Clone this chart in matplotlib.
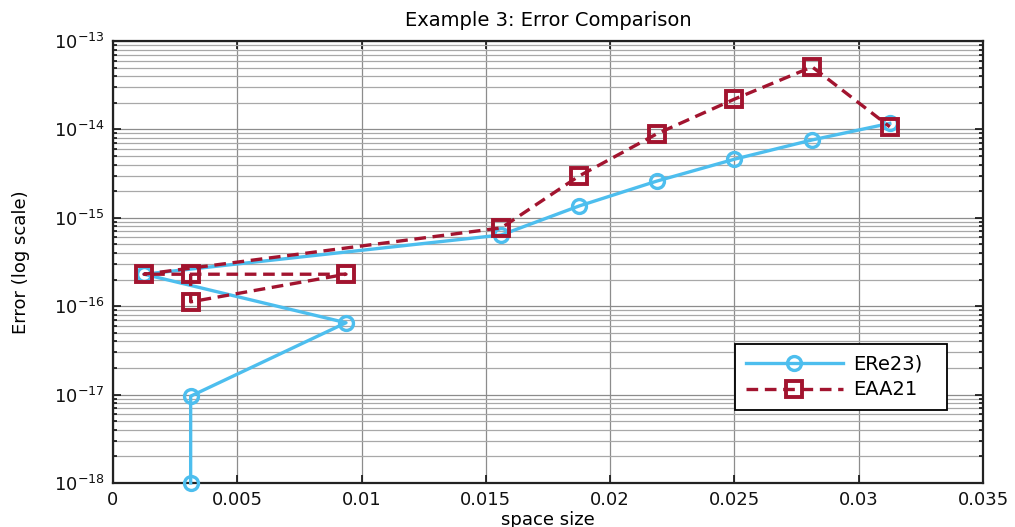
import numpy as np
import matplotlib
matplotlib.use("Agg")
import matplotlib.pyplot as plt
from matplotlib.ticker import FixedLocator, LogFormatterMathtext, NullFormatter

plt.rcParams['font.family'] = ['DejaVu Sans']
plt.rcParams['mathtext.fontset'] = 'dejavusans'

# space sizes (same for both methods, in plotting order)
space_size = [0.003125, 0.003125, 0.009375, 0.00125, 0.015625,
              0.01875, 0.021875, 0.025, 0.028125, 0.03125]
err_ere23 = [1.0e-18, 9.6e-18, 6.5e-17, 2.3e-16, 6.4e-16,
             1.36e-15, 2.6e-15, 4.6e-15, 7.6e-15, 1.17e-14]
err_eaa21 = [2.3e-16, 1.12e-16, 2.3e-16, 2.3e-16, 7.7e-16,
             2.97e-15, 8.9e-15, 2.2e-14, 5.1e-14, 1.07e-14]
xtick_vals = [0, 0.005, 0.01, 0.015, 0.02, 0.025, 0.03, 0.035]
xtick_text = ['0', '0.005', '0.01', '0.015', '0.02', '0.025', '0.03', '0.035']
ytick_exp = [-18, -17, -16, -15, -14, -13]

blue = '#4DBEEE'
red = '#A2142F'

fig = plt.figure(figsize=(10.15, 5.27), dpi=100)
ax = fig.add_axes([0.1113, 0.0835, 0.8572, 0.8387])

ax.plot(space_size, err_ere23, '-o', color=blue, lw=2.4, ms=10, mew=2.4,
        mfc='none', label='ERe23)', clip_on=False, zorder=3)
ax.plot(space_size, err_eaa21, '--s', color=red, lw=2.4, ms=11, mew=2.8,
        mfc='none', label='EAA21', clip_on=False, zorder=4, dashes=(3.5, 2))

ax.set_yscale('log')
ax.set_xlim(0, 0.035)
ax.set_ylim(1e-18, 1e-13)
ax.set_xticks(xtick_vals)
ax.set_xticklabels(xtick_text)

# explicit log ticks so nothing lands outside the axes
major_y = [10.0 ** e for e in ytick_exp]
minor_y = [m * 10.0 ** e for e in ytick_exp[:-1] for m in range(2, 10)]
ax.yaxis.set_major_locator(FixedLocator(major_y))
ax.yaxis.set_major_formatter(LogFormatterMathtext())
ax.yaxis.set_minor_locator(FixedLocator(minor_y))
ax.yaxis.set_minor_formatter(NullFormatter())

# matlab-like grid
ax.grid(True, which='major', color='#8c8c8c', lw=0.9)
ax.grid(True, which='minor', axis='y', color='#a8a8a8', lw=0.9)
ax.tick_params(which='both', direction='in', top=True, right=True, labelsize=13,
               width=1.2, colors='#111111')
ax.tick_params(axis='x', pad=6)
ax.tick_params(axis='y', pad=6)
ax.tick_params(which='major', length=6)
ax.tick_params(which='minor', length=3)
for s in ax.spines.values():
    s.set_linewidth(1.6)
    s.set_color('#222222')

ax.set_title('Example 3: Error Comparison', fontsize=14, pad=11)
ax.set_xlabel('space size', fontsize=13, labelpad=1)
ax.set_ylabel('Error (log scale)', fontsize=13)
ax.yaxis.set_label_coords(-0.095, 0.5)

leg = ax.legend(loc='lower left', bbox_to_anchor=(0.715, 0.165, 0.244, 0.15),
                mode='expand', fontsize=14, fancybox=False, framealpha=1,
                edgecolor='black', handlelength=5, borderpad=0.55,
                labelspacing=0.35, handletextpad=0.5, borderaxespad=0)
leg.get_frame().set_linewidth(1.3)

fig.savefig('out.png', dpi=100)
